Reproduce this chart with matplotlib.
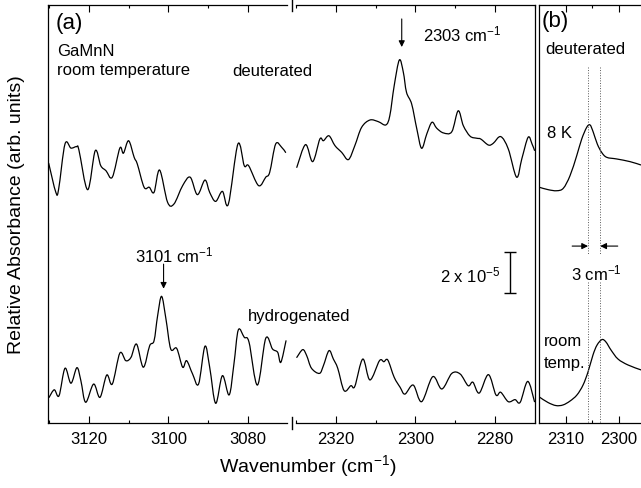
import matplotlib
matplotlib.use('Agg')
import matplotlib.pyplot as plt
from matplotlib.ticker import MultipleLocator, FixedLocator
from matplotlib.lines import Line2D
from matplotlib.path import Path
from matplotlib.patches import PathPatch

plt.rcParams['font.family'] = ['Liberation Sans', 'DejaVu Sans']
plt.rcParams['mathtext.fontset'] = 'custom'
plt.rcParams['mathtext.rm'] = 'Liberation Sans'
plt.rcParams['mathtext.it'] = 'Liberation Sans:italic'
plt.rcParams['mathtext.default'] = 'regular'

#####
# spectra: wavenumber (cm-1) and absorbance (1e-5, offset)
#####
# (a) deuterated sample, N-H region
deut_h_wn = [3130.1, 3128.3, 3127.6, 3126.0, 3124.5, 3123.1, 3122.5, 3120.3, 3118.4, 3117.0,
             3115.7, 3114.1, 3112.2, 3111.3, 3110.0, 3108.6, 3107.8, 3106.1, 3104.8, 3103.6,
             3102.2, 3100.2, 3098.6, 3096.4, 3094.5, 3092.7, 3090.8, 3089.6, 3088.1, 3086.4,
             3084.9, 3082.5, 3080.9, 3079.8, 3077.3, 3075.5, 3074.5, 3073.0, 3071.5, 3070.5]
deut_h_abs = [12.67, 11.25, 11.41, 13.61, 13.41, 13.48, 13.32, 11.38, 13.28, 12.55,
              12.31, 11.99, 13.41, 13.16, 13.77, 12.96, 12.63, 11.50, 11.50, 11.25,
              12.34, 10.77, 10.68, 11.58, 11.99, 11.14, 11.85, 11.25, 10.81, 11.30,
              10.68, 13.61, 12.55, 12.55, 11.58, 11.99, 12.23, 13.61, 13.45, 13.20]

# (a) deuterated sample, N-D region
deut_d_wn = [2329.8, 2327.6, 2325.8, 2324.0, 2323.1, 2321.7, 2320.2, 2318.5, 2316.8, 2315.2,
             2313.5, 2311.4, 2309.3, 2307.4, 2306.4, 2305.3, 2304.0, 2303.0, 2302.2, 2300.9,
             2299.6, 2298.4, 2297.1, 2295.8, 2294.6, 2292.9, 2290.8, 2289.2, 2287.9, 2286.2,
             2284.5, 2283.5, 2281.6, 2280.4, 2278.5, 2276.6, 2274.5, 2273.2, 2271.6, 2270.6,
             2270.0]
deut_d_abs = [12.47, 13.58, 12.75, 13.85, 13.77, 14.01, 13.53, 13.20, 12.85, 13.53,
              14.42, 14.78, 14.70, 14.54, 14.99, 16.45, 17.71, 17.11, 16.13, 15.56,
              14.34, 13.40, 14.10, 14.67, 14.38, 14.15, 14.21, 15.23, 14.50, 13.99,
              13.89, 13.85, 13.56, 13.64, 13.97, 13.37, 11.99, 12.88, 13.94, 13.60,
              13.30]

# (a) hydrogenated sample, N-H region
hyd_h_wn = [3130.0, 3128.7, 3127.5, 3126.0, 3124.5, 3123.0, 3122.0, 3120.8, 3118.8, 3117.2,
            3115.5, 3114.1, 3112.2, 3110.7, 3109.4, 3108.0, 3106.3, 3104.7, 3103.6, 3102.7,
            3101.7, 3100.6, 3099.4, 3097.9, 3096.4, 3095.4, 3093.9, 3092.4, 3090.8, 3089.6,
            3088.1, 3086.4, 3084.7, 3083.5, 3082.4, 3080.9, 3079.7, 3077.6, 3075.5, 3073.8,
            3072.5, 3071.7, 3070.4]
hyd_h_abs = [1.25, 1.62, 1.33, 2.67, 1.94, 2.70, 2.06, 1.01, 1.90, 1.25,
             2.34, 1.90, 3.41, 3.04, 3.20, 3.85, 2.72, 3.77, 4.01, 5.23,
             6.18, 5.07, 3.61, 3.64, 2.72, 3.04, 2.39, 1.90, 3.74, 2.72,
             0.96, 2.31, 1.37, 2.88, 4.54, 4.18, 3.94, 1.85, 4.13, 3.61,
             3.45, 2.96, 4.01]

# (a) hydrogenated sample, N-D region
hyd_d_wn = [2329.8, 2328.3, 2327.3, 2326.1, 2324.1, 2323.1, 2321.7, 2320.6, 2319.5, 2317.9,
            2316.2, 2315.2, 2313.2, 2311.4, 2309.0, 2307.9, 2306.9, 2305.3, 2303.8, 2302.6,
            2300.5, 2298.4, 2295.6, 2293.3, 2290.8, 2288.7, 2286.7, 2285.5, 2283.9, 2281.6,
            2279.7, 2278.5, 2276.6, 2274.9, 2273.6, 2271.7, 2270.0]
hyd_d_abs = [3.20, 3.58, 3.28, 2.67, 2.42, 2.80, 3.53, 3.12, 2.67, 1.58,
             1.82, 1.79, 3.12, 2.10, 3.04, 2.99, 3.07, 2.23, 1.74, 1.41,
             1.85, 1.04, 2.26, 1.66, 2.42, 2.39, 1.82, 1.99, 1.46, 2.36,
             1.37, 1.50, 1.04, 1.14, 1.01, 2.03, 1.04]

# (b) deuterated sample at 8 K and room temperature
b_8k_wn = [2315.0, 2313.30, 2311.72, 2310.47, 2309.21, 2307.94, 2307.00, 2306.06, 2305.43, 2304.81,
           2304.06, 2303.23, 2302.28, 2300.40, 2297.89, 2295.87]
b_8k_abs = [11.50, 11.38, 11.33, 11.45, 12.06, 13.04, 13.85, 14.42, 14.54, 14.18,
            13.61, 13.20, 12.96, 12.88, 12.75, 12.59]
b_rt_wn = [2315.0, 2313.36, 2311.85, 2310.53, 2309.21, 2307.89, 2306.75, 2305.81, 2304.87, 2304.11,
           2303.17, 2302.42, 2301.47, 2300.15, 2298.26, 2295.81]
b_rt_abs = [1.27, 1.00, 0.85, 0.88, 1.07, 1.37, 1.85, 2.49, 3.32, 3.80,
            4.07, 3.95, 3.56, 3.12, 2.83, 2.59]

peak_8k = 2305.8
peak_rt = 2303.5


def smooth_curve(ax, xs, ys, lw=0.9):
    # draw a smooth curve through the read-off points (Catmull-Rom as cubic Beziers)
    n = len(xs)
    verts = [(xs[0], ys[0])]
    codes = [Path.MOVETO]
    for i in range(n - 1):
        a = max(i - 1, 0)
        d = min(i + 2, n - 1)
        c1 = (xs[i] + (xs[i + 1] - xs[a]) / 6.0, ys[i] + (ys[i + 1] - ys[a]) / 6.0)
        c2 = (xs[i + 1] - (xs[d] - xs[i]) / 6.0, ys[i + 1] - (ys[d] - ys[i]) / 6.0)
        verts += [c1, c2, (xs[i + 1], ys[i + 1])]
        codes += [Path.CURVE4] * 3
    ax.add_patch(PathPatch(Path(verts, codes), fill=False, ec='k', lw=lw,
                           joinstyle='round', capstyle='round'))


#####
# layout (figure is 641 x 489 px)
#####
W, H = 641.0, 489.0
fig = plt.figure(figsize=(W / 100, H / 100), dpi=100)

def fx(x):
    return x / W

def fy(y):
    return 1 - y / H

PXA = 3.975   # px per cm-1 in panel (a)
PXB = 5.3     # px per cm-1 in panel (b)
bot, hgt = fy(424), 418 / H
ymax = 418 / 20.5

ax1 = fig.add_axes([fx(48.3), bot, 60 * PXA / W, hgt])
ax2 = fig.add_axes([fx(296), bot, 60 * PXA / W, hgt])
ax3 = fig.add_axes([fx(539.3), bot, 30 * PXB / W, hgt])

ax1.set_xlim(3130.2, 3070.2)
ax2.set_xlim(2330, 2270)
ax3.set_xlim(2315, 2285)

for ax in (ax1, ax2, ax3):
    ax.set_ylim(0, ymax)
    ax.set_yticks([])
    ax.tick_params(axis='x', which='both', direction='in', top=True, width=0.8,
                   labelsize=12, pad=6)
    ax.tick_params(axis='x', which='major', length=5)
    ax.tick_params(axis='x', which='minor', length=2.5)
    for s in ax.spines.values():
        s.set_linewidth(0.9)

for ax in (ax1, ax2):
    ax.xaxis.set_major_locator(MultipleLocator(20))
    ax.xaxis.set_minor_locator(MultipleLocator(10))
ax3.xaxis.set_major_locator(FixedLocator([2310, 2300]))
ax3.xaxis.set_minor_locator(FixedLocator([2305, 2295]))

ax1.spines['right'].set_visible(False)
ax2.spines['left'].set_visible(False)

# axis break marks
for yb in (fy(6), fy(424)):
    fig.add_artist(Line2D([fx(291.7), fx(291.7)], [yb + 6 / H, yb - 6 / H],
                          color='k', lw=1.0))

smooth_curve(ax1, deut_h_wn, deut_h_abs)
smooth_curve(ax1, hyd_h_wn, hyd_h_abs)
smooth_curve(ax2, deut_d_wn, deut_d_abs)
smooth_curve(ax2, hyd_d_wn, hyd_d_abs)
smooth_curve(ax3, b_8k_wn, b_8k_abs)
smooth_curve(ax3, b_rt_wn, b_rt_abs)

# peak arrows
arr = dict(arrowstyle='-|>', color='k', lw=0.8, mutation_scale=9, shrinkA=0, shrinkB=0)
ax2.annotate('', xy=(2303.4, 18.34), xytext=(2303.4, 19.71), arrowprops=arr)
ax1.annotate('', xy=(3101.2, 6.55), xytext=(3101.2, 7.75), arrowprops=arr)

# scale bar 2 x 10^-5
ax2.errorbar([2276.2], [7.34], yerr=[1.0], color='k', lw=1.0, capsize=4, capthick=1.0)

# dotted peak markers and 3 cm-1 arrows in (b)
for xv in (peak_8k, peak_rt):
    ax3.plot([xv, xv], [17.37, 8.24], color='0.35', lw=0.7, ls=':')
    ax3.plot([xv, xv], [6.88, 0], color='0.35', lw=0.7, ls=':')
ax3.annotate('', xy=(peak_8k, 8.63), xytext=(2308.8, 8.63), arrowprops=arr)
ax3.annotate('', xy=(peak_rt, 8.63), xytext=(2300.2, 8.63), arrowprops=arr)

# annotations
fs = 12
fig.text(fx(56), fy(23), '(a)', fontsize=16, va='center', ha='left')
fig.text(fx(57), fy(52), 'GaMnN', fontsize=fs, va='center', ha='left')
fig.text(fx(57), fy(71), 'room temperature', fontsize=fs, va='center', ha='left')
fig.text(fx(232), fy(71), 'deuterated', fontsize=fs, va='center', ha='left')
fig.text(fx(423), fy(34), '2303 cm$^{-1}$', fontsize=fs, va='center', ha='left')
fig.text(fx(174), fy(255), '3101 cm$^{-1}$', fontsize=fs, va='center', ha='center')
fig.text(fx(248), fy(316), 'hydrogenated', fontsize=fs, va='center', ha='left')
fig.text(fx(500), fy(275), '2 x 10$^{-5}$', fontsize=fs, va='center', ha='right')
fig.text(fx(542), fy(22), '(b)', fontsize=16, va='center', ha='left')
fig.text(fx(545), fy(50), 'deuterated', fontsize=fs, va='center', ha='left')
fig.text(fx(547), fy(134), '8 K', fontsize=fs, va='center', ha='left')
fig.text(fx(596), fy(273), '3 cm$^{-1}$', fontsize=fs, va='center', ha='center')
fig.text(fx(544), fy(342), 'room', fontsize=fs, va='center', ha='left')
fig.text(fx(544), fy(364), 'temp.', fontsize=fs, va='center', ha='left')

fig.text(fx(17), fy(215), 'Relative Absorbance (arb. units)', fontsize=14,
         rotation=90, va='center', ha='center')
fig.text(fx(308), fy(466), 'Wavenumber (cm$^{-1}$)', fontsize=14, va='center', ha='center')

fig.savefig('out.png', dpi=100)
